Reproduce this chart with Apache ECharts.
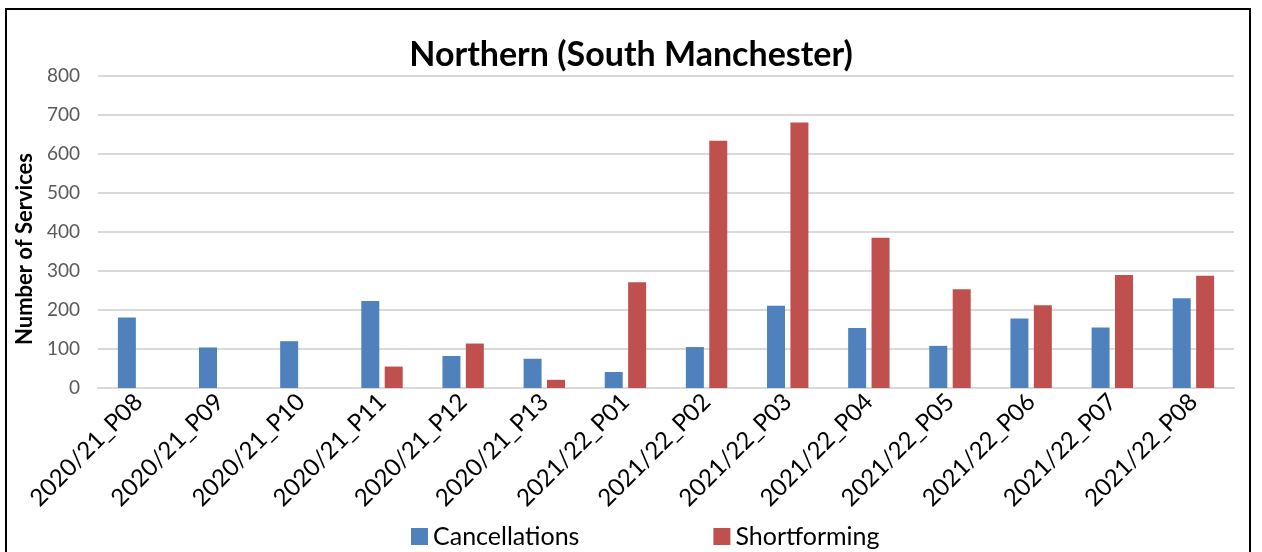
<!DOCTYPE html>
<html>
<head>
<meta charset="utf-8">
<script src="https://cdn.jsdelivr.net/npm/echarts@6/dist/echarts.min.js"></script>
<style>
  html, body { margin: 0; padding: 0; background: #fff; }
  #frame { position: absolute; left: 5px; top: 8px; width: 1246px; height: 560px; border: 2px solid #000; box-sizing: border-box; }
  #chart { position: absolute; left: 0; top: 0; width: 1262px; height: 552px; }
</style>
</head>
<body>
<div id="frame"></div>
<div id="chart"></div>
<script>
// periods along the x axis
const periods = [
  '2020/21_P08', '2020/21_P09', '2020/21_P10', '2020/21_P11', '2020/21_P12',
  '2020/21_P13', '2021/22_P01', '2021/22_P02', '2021/22_P03', '2021/22_P04',
  '2021/22_P05', '2021/22_P06', '2021/22_P07', '2021/22_P08'
];
const cancellations = [181, 104, 120, 223, 82, 75, 41, 105, 211, 154, 108, 178, 155, 230];
const shortforming = [null, null, null, 55, 114, 21, 271, 634, 681, 385, 253, 212, 290, 288];
const yTicks = { min: 0, max: 800, interval: 100 };

const chart = echarts.init(document.getElementById('chart'));
const font = 'Lato, "Open Sans", sans-serif';

chart.setOption({
  animation: false,
  title: {
    text: 'Northern (South Manchester)',
    left: 'center',
    top: 33,
    textStyle: { fontFamily: font, fontSize: 34, fontWeight: 'bold', color: '#000' }
  },
  legend: {
    bottom: -2,
    left: 406,
    itemGap: 134,
    itemWidth: 17,
    itemHeight: 17,
    icon: 'rect',
    textStyle: { fontFamily: font, fontSize: 25, color: '#000' },
    data: ['Cancellations', 'Shortforming']
  },
  grid: { left: 98, right: 28, top: 76, bottom: 164 },
  xAxis: {
    type: 'category',
    data: periods,
    axisLine: { lineStyle: { color: '#d9d9d9', width: 2 } },
    axisTick: { show: false },
    axisLabel: { rotate: 45, interval: 0, fontFamily: font, fontSize: 24, color: '#000', margin: 10 }
  },
  yAxis: {
    type: 'value',
    min: yTicks.min,
    max: yTicks.max,
    interval: yTicks.interval,
    name: 'Number of Services',
    nameLocation: 'middle',
    nameGap: 58,
    nameTextStyle: { fontFamily: font, fontSize: 22, fontWeight: 'bold', color: '#000', padding: [0, 34, 0, 0] },
    axisLine: { show: false },
    axisTick: { show: false },
    axisLabel: { fontFamily: font, fontSize: 19, color: '#595959', margin: 18 },
    splitLine: { lineStyle: { color: '#d9d9d9', width: 2 } }
  },
  series: [
    {
      name: 'Cancellations',
      type: 'bar',
      data: cancellations,
      barWidth: 18,
      barGap: '30%',
      itemStyle: { color: '#4f81bd' }
    },
    {
      name: 'Shortforming',
      type: 'bar',
      data: shortforming,
      barWidth: 18,
      itemStyle: { color: '#c0504d' }
    }
  ]
});
</script>
</body>
</html>
